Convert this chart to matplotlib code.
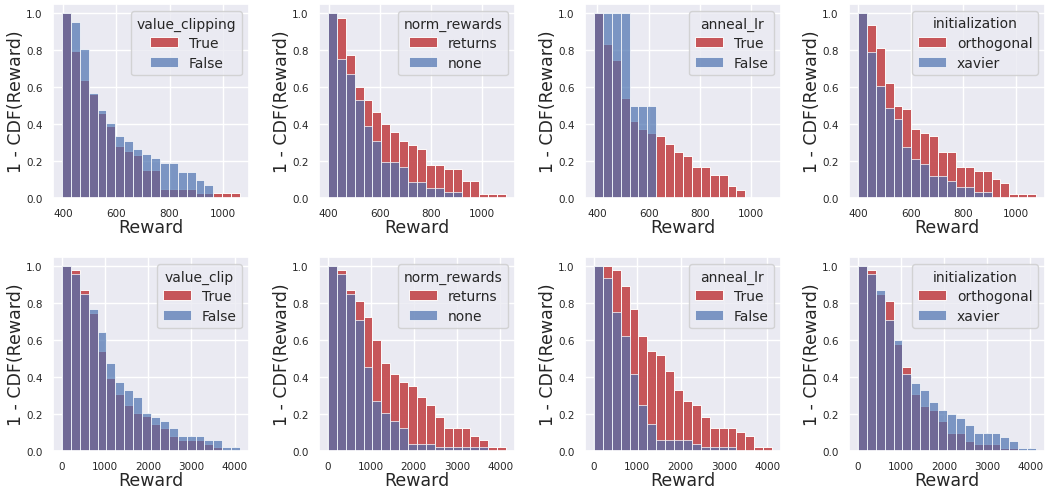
import numpy as np
import matplotlib
matplotlib.use("Agg")
import matplotlib.pyplot as plt
import seaborn as sns

sns.set_theme(style="darkgrid")
plt.rcParams['font.family'] = ['DejaVu Sans']

RED = "#C44E52"
BLUE = "#4C72B0"

# ---- data: 1 - CDF(Reward), 20 bins per panel ----
titles = ["value_clipping", "norm_rewards", "anneal_lr", "initialization",
          "value_clip", "norm_rewards", "anneal_lr", "initialization"]
labels_a = ["True", "returns", "True", "orthogonal", "True", "returns", "True", "orthogonal"]
labels_b = ["False", "none", "False", "xavier", "False", "none", "False", "xavier"]

bin_ranges = [(396, 1065), (397, 1094), (386, 1082), (400, 1076),
              (8, 4124), (8, 4140), (0, 4108), (0, 4140)]

a1 = [1.0, 0.794, 0.64, 0.564, 0.461, 0.387, 0.284, 0.255, 0.233, 0.154,
      0.154, 0.05, 0.05, 0.05, 0.05, 0.025, 0.025, 0.025, 0.025, 0.025]
b1 = [1.0, 0.953, 0.808, 0.57, 0.477, 0.405, 0.335, 0.309, 0.264, 0.239,
      0.215, 0.19, 0.19, 0.141, 0.141, 0.096, 0.071, 0, 0, 0]

a2 = [1.0, 0.975, 0.775, 0.6, 0.533, 0.467, 0.4, 0.356, 0.311, 0.289,
      0.266, 0.179, 0.179, 0.156, 0.156, 0.09, 0.09, 0.022, 0.022, 0.022]
b2 = [1.0, 0.752, 0.669, 0.528, 0.392, 0.306, 0.195, 0.195, 0.166, 0.087,
      0.087, 0.054, 0.054, 0.031, 0.031, 0, 0, 0, 0, 0]

a3 = [1.0, 0.835, 0.749, 0.542, 0.418, 0.374, 0.353, 0.333, 0.291, 0.25,
      0.23, 0.166, 0.166, 0.127, 0.127, 0.063, 0.042, 0, 0, 0]
b3 = [1.0, 1.0, 1.0, 1.0, 0.5, 0.5, 0.5, 0, 0, 0,
      0, 0, 0, 0, 0, 0, 0, 0, 0, 0]

a4 = [1.0, 0.939, 0.812, 0.624, 0.5, 0.479, 0.374, 0.353, 0.333, 0.25,
      0.25, 0.166, 0.166, 0.145, 0.145, 0.103, 0.083, 0.022, 0.022, 0.022]
b4 = [1.0, 0.79, 0.606, 0.488, 0.425, 0.275, 0.212, 0.184, 0.12, 0.12,
      0.09, 0.061, 0.061, 0.033, 0.033, 0, 0, 0, 0, 0]

a5 = [1.0, 0.978, 0.873, 0.748, 0.54, 0.395, 0.31, 0.248, 0.205, 0.187,
      0.145, 0.125, 0.082, 0.062, 0.062, 0.062, 0.04, 0.02, 0, 0]
b5 = [1.0, 0.957, 0.851, 0.77, 0.645, 0.478, 0.373, 0.332, 0.29, 0.207,
      0.185, 0.165, 0.123, 0.08, 0.08, 0.08, 0.062, 0.062, 0.02, 0.02]

a6 = [1.0, 0.978, 0.873, 0.812, 0.726, 0.603, 0.478, 0.415, 0.373, 0.351,
      0.29, 0.248, 0.185, 0.125, 0.125, 0.125, 0.08, 0.06, 0.02, 0.02]
b6 = [1.0, 0.957, 0.851, 0.707, 0.457, 0.272, 0.207, 0.163, 0.125, 0.04,
      0.04, 0.04, 0.02, 0.02, 0.02, 0.02, 0.02, 0.02, 0, 0]

a7 = [1.0, 1.0, 0.978, 0.895, 0.77, 0.623, 0.54, 0.52, 0.435, 0.332,
      0.268, 0.248, 0.185, 0.123, 0.123, 0.123, 0.103, 0.082, 0.02, 0.02]
b7 = [1.0, 0.938, 0.75, 0.625, 0.417, 0.25, 0.145, 0.06, 0.06, 0.06,
      0.06, 0.04, 0.02, 0.02, 0.02, 0.02, 0, 0, 0, 0]

a8 = [1.0, 0.978, 0.851, 0.811, 0.58, 0.456, 0.307, 0.245, 0.224, 0.16,
      0.1, 0.1, 0.056, 0.036, 0.036, 0.036, 0.016, 0.016, 0, 0]
b8 = [1.0, 0.957, 0.873, 0.707, 0.6, 0.415, 0.37, 0.33, 0.265, 0.224,
      0.2, 0.18, 0.14, 0.1, 0.1, 0.1, 0.078, 0.056, 0.016, 0.016]

series_a = [a1, a2, a3, a4, a5, a6, a7, a8]
series_b = [b1, b2, b3, b4, b5, b6, b7, b8]

top_xticks = [400, 600, 800, 1000]
bot_xticks = [0, 1000, 2000, 3000, 4000]
yticks = [0.0, 0.2, 0.4, 0.6, 0.8, 1.0]

# ---- layout ----
W, H = 1046, 489
fig = plt.figure(figsize=(W / 100, H / 100), dpi=100)
col_left = [53, 319, 585, 849]
row_top = [5, 258]
aw, ah = 196, 194

for i in range(8):
    r, c = divmod(i, 4)
    ax = fig.add_axes([col_left[c] / W, 1 - (row_top[r] + ah) / H, aw / W, ah / H])
    lo, hi = bin_ranges[i]
    edges = np.linspace(lo, hi, 21)
    width = edges[1] - edges[0]
    ax.bar(edges[:-1], series_a[i], width=width, align='edge', color=RED,
           alpha=0.95, edgecolor='white', linewidth=0.7, label=labels_a[i])
    ax.bar(edges[:-1], series_b[i], width=width, align='edge', color=BLUE,
           alpha=0.7, edgecolor='white', linewidth=0.7, label=labels_b[i])
    ax.set_ylim(0, 1.05)
    ax.set_yticks(yticks)
    ax.set_yticklabels([f"{v:.1f}" for v in yticks])
    ax.set_xticks(top_xticks if r == 0 else bot_xticks)
    ax.tick_params(labelsize=7.5, colors='.15', pad=1.5)
    ax.set_xlabel("Reward", fontsize=12.5, color='.15', labelpad=0)
    ax.set_ylabel("1 - CDF(Reward)", fontsize=12.5, color='.15', labelpad=0.5)
    leg = ax.legend(title=titles[i], loc='upper right', fontsize=10,
                    title_fontsize=10, labelspacing=0.4)

fig.savefig("out.png", dpi=100)
